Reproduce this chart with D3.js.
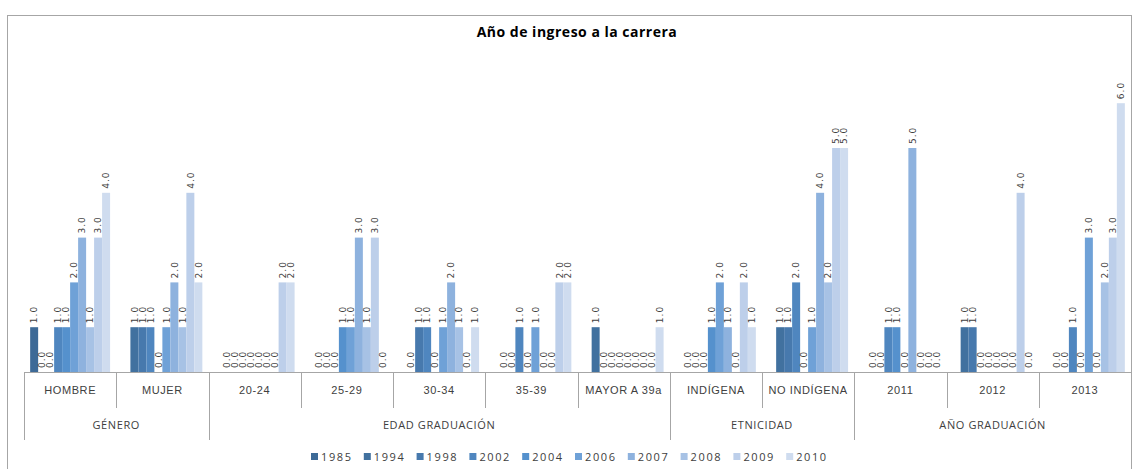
<!DOCTYPE html>
<html>
<head>
<meta charset="utf-8">
<script src="https://cdn.jsdelivr.net/npm/d3@7"></script>
<style>
  body { margin: 0; background: #fff; }
  svg { display: block; font-family: "Open Sans", sans-serif; }
  .vlabel { font-family: "DejaVu Sans", sans-serif; font-size: 9px; letter-spacing: 1px; fill: #404040; }
  .cat text { font-size: 11px; letter-spacing: 0.6px; fill: #404040; }
  .legend text { font-size: 11px; letter-spacing: 1.6px; fill: #404040; }
</style>
</head>
<body>
<svg width="1134" height="469"></svg>
<script>
const categories = ['HOMBRE', 'MUJER', '20-24', '25-29', '30-34', '35-39', 'MAYOR A 39a', 'INDÍGENA', 'NO INDÍGENA', '2011', '2012', '2013'];
const groups = ['GÉNERO', 'EDAD GRADUACIÓN', 'ETNICIDAD', 'AÑO GRADUACIÓN'];
const groupSizes = [2, 5, 2, 3];
const years = ['1985', '1994', '1998', '2002', '2004', '2006', '2007', '2008', '2009', '2010'];
const colors = ['#3d6a97', '#41719f', '#4779ad', '#4f86bf', '#5591cd', '#6fa1d7', '#8eb2de', '#a7c2e5', '#bdcfea', '#cfdcef'];

// one array per series, one value per category (null = no data)
const s1985 = [1, null, null, null, null, null, null, null, null, null, null, null];
const s1994 = [0, 1, 0, 0, 0, 0, 1, 0, 1, 0, 1, 0];
const s1998 = [0, 1, 0, 0, 1, 0, 0, 0, 1, 0, 1, 0];
const s2002 = [1, 1, 0, 0, 1, 1, 0, 0, 2, 1, 0, 1];
const s2004 = [1, 0, 0, 1, 0, 0, 0, 1, 0, 1, 0, 0];
const s2006 = [2, 1, 0, 1, 1, 1, 0, 2, 1, 0, 0, 3];
const s2007 = [3, 2, 0, 3, 2, 0, 0, 1, 4, 5, 0, 0];
const s2008 = [1, 1, 0, 1, 1, 0, 0, 0, 2, 0, 0, 2];
const s2009 = [3, 4, 2, 3, 0, 2, 0, 2, 5, 0, 4, 3];
const s2010 = [4, 2, 2, 0, 1, 2, 1, 1, 5, 0, 0, 6];
const seriesValues = [s1985, s1994, s1998, s2002, s2004, s2006, s2007, s2008, s2009, s2010];

const svg = d3.select('svg');
const left = 24, right = 1131, base = 372;

// chart area border
svg.append('rect')
  .attr('x', 7.5).attr('y', 15.5)
  .attr('width', 1124).attr('height', 480)
  .attr('fill', 'none').attr('stroke', '#a6a6a6');

svg.append('text')
  .attr('x', 577).attr('y', 37)
  .attr('text-anchor', 'middle')
  .style('font-size', '14px').style('font-weight', 'bold').style('letter-spacing', '0.5px').style('fill', '#000')
  .text('Año de ingreso a la carrera');

const x0 = d3.scaleBand().domain(categories).range([left, right]).padding(0);
const x1 = d3.scaleBand().domain(years).range([0, x0.bandwidth()]).paddingInner(0).paddingOuter(0.77);
const y = d3.scaleLinear().domain([0, 7]).range([base, base - 7 * 44.8]);

const rows = categories.map((c, ci) => years.map((yr, si) => ({ cat: c, year: yr, si, value: seriesValues[si][ci] })));

const cg = svg.selectAll('.catg')
  .data(rows)
  .enter().append('g')
  .attr('transform', (d, i) => `translate(${x0(categories[i])},0)`);

cg.selectAll('rect')
  .data(d => d.filter(v => v.value !== null && v.value > 0))
  .enter().append('rect')
  .attr('x', d => x1(d.year))
  .attr('y', d => y(d.value))
  .attr('width', x1.bandwidth())
  .attr('height', d => base - y(d.value))
  .attr('fill', d => colors[d.si]);

cg.selectAll('text')
  .data(d => d.filter(v => v.value !== null))
  .enter().append('text')
  .attr('class', 'vlabel')
  .attr('transform', d => `translate(${x1(d.year) + x1.bandwidth() / 2},${y(d.value) - 4}) rotate(-90)`)
  .attr('dy', '0.35em')
  .text(d => d.value.toFixed(1));

// category axis
const axis = svg.append('g')
  .attr('class', 'cat')
  .attr('transform', `translate(0,${base})`)
  .call(d3.axisBottom(x0).tickSize(0).tickPadding(14));
axis.select('.domain').attr('stroke', '#a6a6a6');

// dividers: short between categories, long between groups
const groupStarts = [0];
groupSizes.forEach((n, i) => groupStarts.push(groupStarts[i] + n));
const edges = categories.map(c => x0(c)).concat([right]);
svg.append('g').selectAll('line')
  .data(edges)
  .enter().append('line')
  .attr('x1', d => Math.round(d) + 0.5).attr('x2', d => Math.round(d) + 0.5)
  .attr('y1', base)
  .attr('y2', (d, i) => groupStarts.includes(i) ? 440 : 408)
  .attr('stroke', '#a6a6a6');

svg.append('g').attr('class', 'cat').selectAll('text')
  .data(groups)
  .enter().append('text')
  .attr('x', (d, i) => (edges[groupStarts[i]] + edges[groupStarts[i + 1]]) / 2)
  .attr('y', 429)
  .attr('text-anchor', 'middle')
  .text(d => d);

// legend
const legend = svg.append('g').attr('class', 'legend');
const item = legend.selectAll('g')
  .data(years)
  .enter().append('g')
  .attr('transform', (d, i) => `translate(${311 + i * 52.8},457)`);
item.append('rect')
  .attr('x', 0).attr('y', -4)
  .attr('width', 7).attr('height', 7)
  .attr('fill', (d, i) => colors[i]);
item.append('text')
  .attr('x', 10).attr('dy', '0.35em')
  .text(d => d);
</script>
</body>
</html>
